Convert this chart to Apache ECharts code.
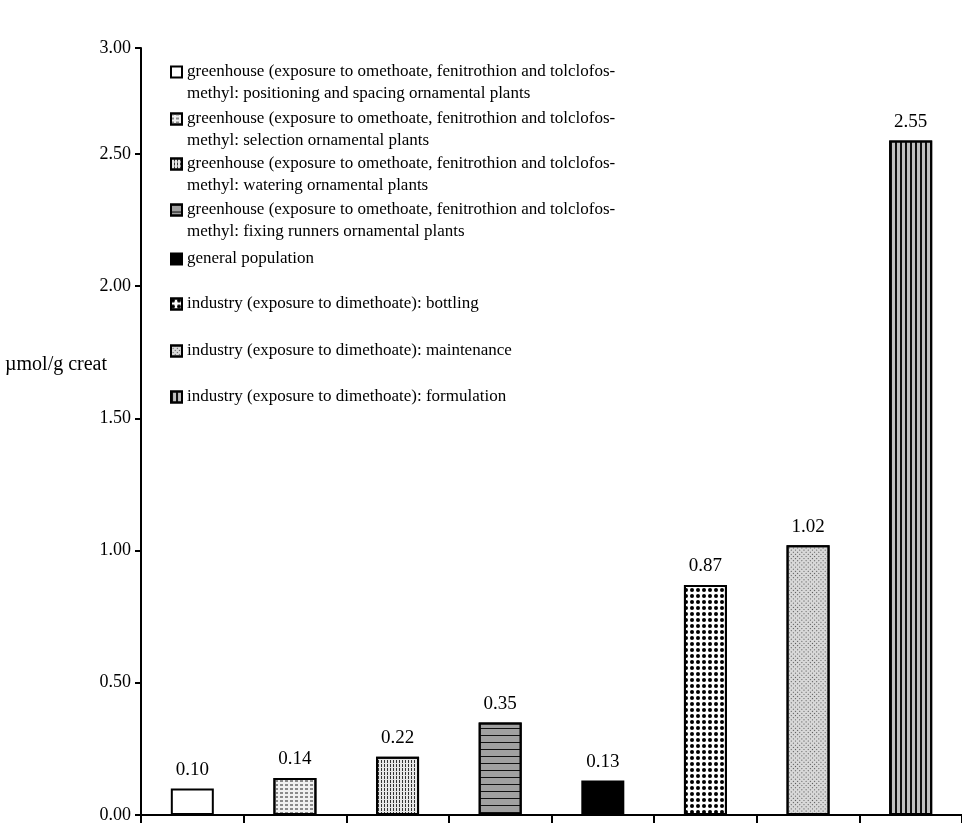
<!DOCTYPE html>
<html>
<head>
<meta charset="utf-8">
<script src="https://cdn.jsdelivr.net/npm/echarts@6/dist/echarts.min.js"></script>
<style>
html,body{margin:0;padding:0;background:#fff;}
#chart{width:962px;height:824px;}
</style>
</head>
<body>
<div id="chart"></div>
<script>
var seriesNames = [
  'greenhouse (exposure to omethoate, fenitrothion and tolclofos-\nmethyl: positioning and spacing ornamental plants',
  'greenhouse (exposure to omethoate, fenitrothion and tolclofos-\nmethyl: selection ornamental plants',
  'greenhouse (exposure to omethoate, fenitrothion and tolclofos-\nmethyl: watering ornamental plants',
  'greenhouse (exposure to omethoate, fenitrothion and tolclofos-\nmethyl: fixing runners ornamental plants',
  'general population',
  'industry (exposure to dimethoate): bottling',
  'industry (exposure to dimethoate): maintenance',
  'industry (exposure to dimethoate): formulation'
];
var categories = ['c1','c2','c3','c4','c5','c6','c7','c8'];
var values = [0.10, 0.14, 0.22, 0.35, 0.13, 0.87, 1.02, 2.55];
var yTickLabels = ['0.00','0.50','1.00','1.50','2.00','2.50','3.00'];
var yAxisTitle = 'µmol/g creat';

var FONT = "'Liberation Serif','DejaVu Serif',serif";

var styles = [
  {color:'#ffffff'},
  {color:'#f0f0f0', decal:{symbol:'rect', color:'#8a8a8a', symbolSize:1, dashArrayX:[3,1.5], dashArrayY:[2,2]}},
  {color:'#e6e6e6', decal:{symbol:'rect', color:'#333333', symbolSize:1, dashArrayX:[1,1.5], dashArrayY:[3,1]}},
  {color:'#a0a0a0', decal:{symbol:'rect', color:'#111111', symbolSize:1, dashArrayX:[10,0], dashArrayY:[1,6]}},
  {color:'#000000'},
  {color:'#ffffff', decal:{symbol:'circle', color:'#000000', symbolSize:1, dashArrayX:[4,1.4], dashArrayY:[4,1.4]}},
  {color:'#d8d8d8', decal:{symbol:'rect', color:'#555555', symbolSize:1, rotation:Math.PI/4, dashArrayX:[1,2], dashArrayY:[1,2]}},
  {color:'#c0c0c0', decal:{symbol:'rect', color:'#111111', symbolSize:1, dashArrayX:[1.5,2.5], dashArrayY:[10,0]}}
];

var legendTops = [61, 108, 153, 199, 248, 293, 340, 386];
var ICON_TALL = 'path://M0,0h11v11h-11zM0,33';

var series = values.map(function(v, i){
  var data = categories.map(function(c, j){ return j === i ? v : '-'; });
  var st = styles[i];
  return {
    name: seriesNames[i],
    type: 'bar',
    barWidth: 43,
    barGap: '-100%',
    data: data,
    itemStyle: {color: st.color, borderColor:'#000', borderWidth:2, decal: st.decal || null},
    label: {
      show: true, position: 'top', distance: 9,
      color:'#000', fontFamily: FONT, fontSize: 19,
      formatter: function(p){ return Number(p.value).toFixed(2); }
    }
  };
});

var legends = seriesNames.map(function(n, i){
  var twoLine = n.indexOf('\n') >= 0;
  return {
    data: [n],
    left: 170,
    top: legendTops[i],
    padding: 0,
    orient: 'vertical',
    itemWidth: 11,
    itemHeight: twoLine ? 33 : 11,
    selectedMode: false,
    icon: twoLine ? ICON_TALL : 'rect',
    itemStyle: {borderColor:'#000', borderWidth: 2},
    textStyle: {fontFamily: FONT, fontSize: 17, lineHeight: 22, color:'#000'}
  };
});

var chart = echarts.init(document.getElementById('chart'), null, {renderer:'canvas'});
chart.setOption({
  backgroundColor:'#ffffff',
  animation: false,
  aria: {enabled: false, decal: {show: false}},
  grid: {left: 141, top: 48, width: 822, bottom: 7, containLabel: false},
  legend: legends,
  graphic: [{
    type:'text', left: 5, top: 355,
    style: {text: yAxisTitle, fontFamily: FONT, fontSize: 20, fill:'#000'}
  }],
  xAxis: {
    type:'category', data: categories, boundaryGap: true,
    axisLine: {lineStyle:{color:'#000', width:2}},
    axisTick: {show:true, length: 8, lineStyle:{color:'#000', width:2}},
    axisLabel: {show:false},
    splitLine: {show:false}
  },
  yAxis: {
    type:'value', min: 0, max: 2.9, interval: 0.5,
    axisLine: {show:true, lineStyle:{color:'#000', width:2}},
    axisTick: {show:true, length: 6, lineStyle:{color:'#000', width:2}},
    axisLabel: {margin: 10, color:'#000', fontFamily: FONT, fontSize: 18,
      formatter: function(v, i){ return yTickLabels[i]; }},
    splitLine: {show:false}
  },
  series: series
});
</script>
</body>
</html>
